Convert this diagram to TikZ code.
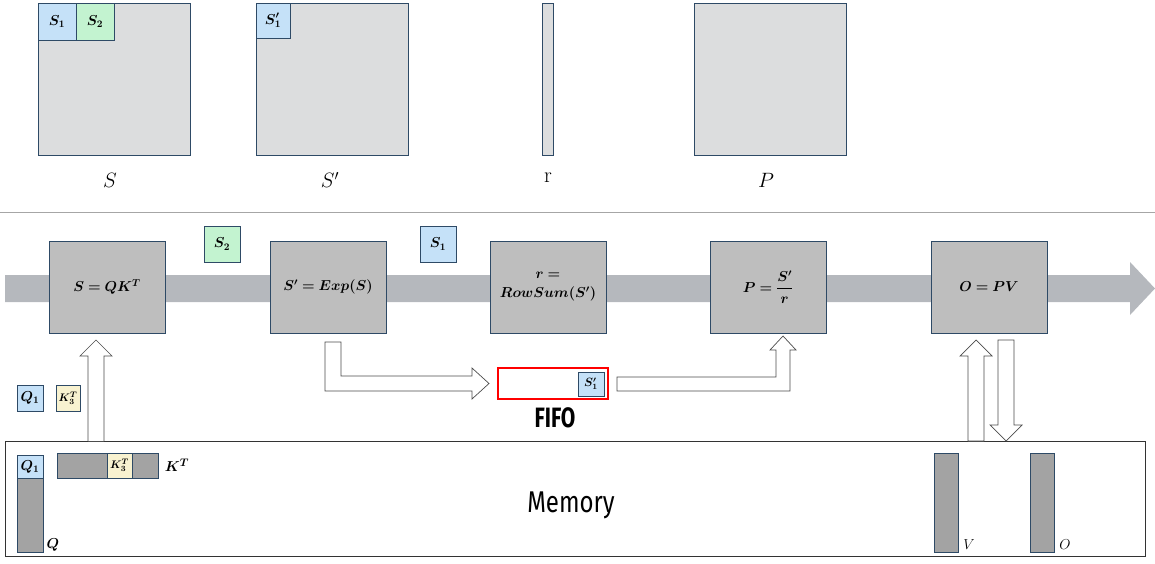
\documentclass[tikz,border=0pt]{standalone}
\usepackage{amsmath,bm}
\usepackage{fontspec}
\newfontfamily\lbl{Fira Sans}
\begin{document}
\begin{tikzpicture}[x=1pt,y=-1pt,
  mat/.style={draw=bordc,fill=matg,line width=0.8pt},
  sm/.style={line width=0.8pt,inner sep=0pt,font=\fontsize{14}{15}\selectfont},
  blu/.style={draw=bordc,fill=lblue,sm},
  grn/.style={draw=bordc,fill=lgreen,sm},
  yel/.style={draw=bordc,fill=lyel,sm},
  op/.style={draw=bordc,fill=opg,line width=0.8pt,minimum width=116pt,minimum height=92pt,align=center,font=\fontsize{14}{16}\selectfont},
  bar/.style={draw=bordc,fill=barg,line width=0.8pt},
  big/.style={font=\fontsize{22}{24}\selectfont},
  hol/.style={draw=black!70,fill=white,line width=0.7pt}]
\definecolor{bordc}{HTML}{2E4A66}
\definecolor{matg}{HTML}{DCDDDE}
\definecolor{lblue}{HTML}{C5E1F8}
\definecolor{lgreen}{HTML}{C3F3D0}
\definecolor{lyel}{HTML}{F8F2D0}
\definecolor{opg}{HTML}{BEBEBE}
\definecolor{barg}{HTML}{A3A3A3}
\definecolor{band}{HTML}{B5B8BD}
\useasboundingbox (0,0) rectangle (1155,564);
% top matrices
\draw[mat] (38,3) rectangle (190,155);
\node[blu,minimum width=38pt,minimum height=37pt] (s1) at (57,21.5) {$\bm{S_1}$};
\node[grn,minimum width=38pt,minimum height=37pt] (s2) at (95,21.5) {$\bm{S_2}$};
\node[big] (Sl) at (110,180) {$S$};
\draw[mat] (256,3) rectangle (408,155);
\node[blu,minimum width=34pt,minimum height=35pt] (sp1) at (273,20.5) {$\bm{S_1'}$};
\node[big] (Spl) at (330,180) {$S'$};
\draw[mat] (542,3) rectangle (553,155);
\node[big] (rl) at (548,178) {r};
\draw[mat] (694,3) rectangle (846,155);
\node[big] (Pl) at (766,180) {$P$};
\draw[gray!70,line width=0.8pt] (0,212) -- (1155,212);
% band
\fill[band] (5,275) -- (1130,275) -- (1130,262) -- (1155,288.5) -- (1130,315) -- (1130,302) -- (5,302) -- cycle;
\node[op] (b1) at (107,287) {$\bm{S = QK^T}$};
\node[op] (b2) at (328,287) {$\bm{S' = Exp(S)}$};
\node[op] (b3) at (548,287) {$\bm{r =}$\\[3pt]$\bm{RowSum(S')}$};
\node[op] (b4) at (768,287) {$\bm{P = \dfrac{S'}{r}}$};
\node[op] (b5) at (989,287) {$\bm{O = PV}$};
\node[grn,minimum width=36pt,minimum height=36pt] (fs2) at (222,244) {$\bm{S_2}$};
\node[blu,minimum width=36pt,minimum height=36pt] (fs1) at (438,244) {$\bm{S_1}$};
% memory
\node[draw=black!80,line width=0.9pt,minimum width=1140pt,minimum height=115pt,inner sep=0pt] (mem) at (575,498.5) {};
\node[font=\lbl\fontsize{30}{32}\selectfont,xscale=0.8] at (571,505) {Memory};
\draw[bar] (17,455) rectangle (43,552);
\node[blu,minimum width=26pt,minimum height=23pt] (q1) at (30,466.5) {$\bm{Q_1}$};
\node[font=\fontsize{15}{16}\selectfont] (Ql) at (53,545) {$\bm{Q}$};
\draw[bar] (57,453) rectangle (158,478);
\node[yel,minimum width=25pt,minimum height=25pt,font=\fontsize{11}{12}\selectfont] (k3) at (119.5,465.5) {$\bm{K^T_3}$};
\node[font=\fontsize{15}{16}\selectfont] (Kl) at (177,465) {$\bm{K^T}$};
\draw[bar] (934,453) rectangle (958,552);
\node[font=\fontsize{15}{16}\selectfont] (Vl) at (969,545) {$V$};
\draw[bar] (1030,453) rectangle (1054,552);
\node[font=\fontsize{15}{16}\selectfont] (Ol) at (1065,545) {$O$};
\node[blu,minimum width=26pt,minimum height=26pt] (fq1) at (30,398) {$\bm{Q_1}$};
\node[yel,minimum width=24pt,minimum height=26pt,font=\fontsize{11}{12}\selectfont] (fk3) at (68,398) {$\bm{K^T_3}$};
% FIFO
\node[draw=red,line width=1.6pt,minimum width=110pt,minimum height=31pt,inner sep=0pt] (fifo) at (553,383.5) {};
\node[blu,minimum width=26pt,minimum height=24pt,font=\fontsize{12}{13}\selectfont] (fsp) at (591,384) {$\bm{S_1'}$};
\node[font=\lbl\bfseries\fontsize{28}{30}\selectfont,xscale=0.75] at (555,418) {FIFO};
% hollow arrows
\draw[hol] (88,441) -- (88,356) -- (80,356) -- (96,340) -- (112,356) -- (104,356) -- (104,441);
\draw[hol] (968,441) -- (968,356) -- (960,356) -- (976,340) -- (992,356) -- (984,356) -- (984,441) -- cycle;
\draw[hol] (998,340) -- (998,425) -- (990,425) -- (1006,441) -- (1022,425) -- (1014,425) -- (1014,340) -- cycle;
\draw[hol] (325,342) -- (341,342) -- (341,376) -- (472,376) -- (472,368) -- (489,383.5) -- (472,399) -- (472,391) -- (325,391) -- cycle;
\draw[hol] (617,377) -- (776,377) -- (776,350) -- (770,350) -- (783,336) -- (796,350) -- (790,350) -- (790,391) -- (617,391) -- cycle;
\end{tikzpicture}
\end{document}
